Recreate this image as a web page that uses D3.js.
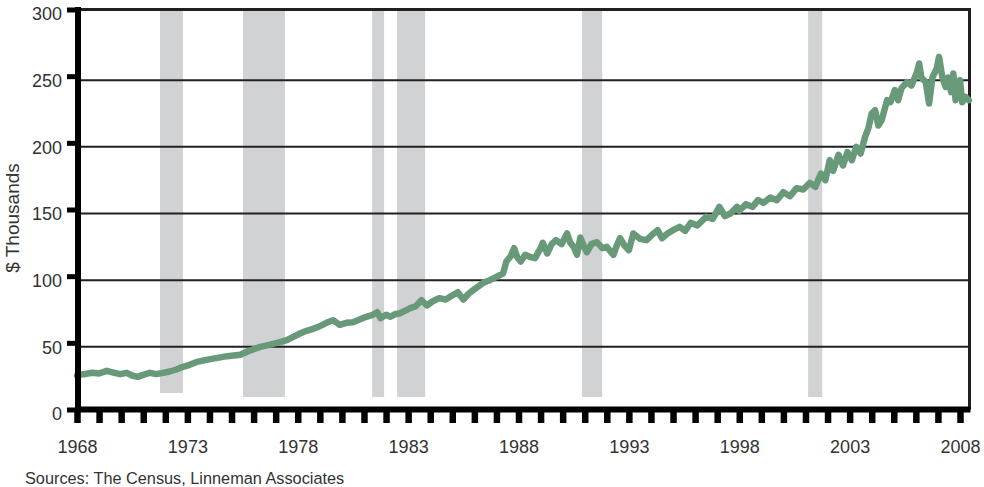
<!DOCTYPE html>
<html>
<head>
<meta charset="utf-8">
<script src="https://cdn.jsdelivr.net/npm/d3@7"></script>
<style>
  html, body { margin: 0; padding: 0; background: #fff; }
  svg { display: block; font-family: "Liberation Sans", Arial, sans-serif; }
</style>
</head>
<body>
<div id="chart"></div>
<script>
// Median home price, $ thousands (decimal year, value)
const dates = [
  1968.0, 1968.3, 1968.7, 1969.0, 1969.35, 1969.7, 1969.95, 1970.25, 1970.5, 1970.75,
  1971.0, 1971.3, 1971.6, 1971.9, 1972.2, 1972.5, 1972.8, 1973.1, 1973.4, 1973.8,
  1974.3, 1974.8, 1975.4, 1975.8, 1976.3, 1976.7, 1977.2, 1977.5, 1977.8, 1978.1,
  1978.4, 1978.7, 1979.0, 1979.3, 1979.6, 1979.9, 1980.2, 1980.5, 1980.8, 1981.1,
  1981.4, 1981.6, 1981.75, 1982.0, 1982.2, 1982.4, 1982.6, 1982.85, 1983.1, 1983.35,
  1983.6, 1983.85, 1984.1, 1984.4, 1984.7, 1984.9, 1985.25, 1985.5, 1985.75, 1985.95,
  1986.2, 1986.4, 1986.7, 1987.0, 1987.3, 1987.45, 1987.65, 1987.8, 1987.95, 1988.1,
  1988.3, 1988.5, 1988.75, 1989.0, 1989.1, 1989.3, 1989.5, 1989.7, 1989.95, 1990.2,
  1990.35, 1990.5, 1990.65, 1990.8, 1991.0, 1991.1, 1991.3, 1991.55, 1991.8, 1992.0,
  1992.3, 1992.45, 1992.6, 1992.8, 1993.0, 1993.2, 1993.5, 1993.8, 1994.05, 1994.3,
  1994.5, 1994.75, 1995.0, 1995.3, 1995.55, 1995.8, 1996.1, 1996.5, 1996.8, 1997.1,
  1997.35, 1997.6, 1997.9, 1998.0, 1998.3, 1998.6, 1998.85, 1999.1, 1999.4, 1999.7,
  2000.0, 2000.3, 2000.6, 2000.9, 2001.2, 2001.45, 2001.7, 2001.9, 2002.1, 2002.25,
  2002.5, 2002.7, 2002.9, 2003.1, 2003.3, 2003.5, 2003.7, 2003.85, 2004.0, 2004.15,
  2004.3, 2004.45, 2004.7, 2004.85, 2005.05, 2005.2, 2005.35, 2005.6, 2005.8, 2006.05,
  2006.15, 2006.25, 2006.45, 2006.6, 2006.75, 2006.95, 2007.05, 2007.2, 2007.35, 2007.45,
  2007.6, 2007.7, 2007.8, 2008.0, 2008.1, 2008.25, 2008.4,
];
const prices = [
  28.5, 29.5, 30.5, 30, 32, 30.5, 29.5, 30.5, 28.5, 27.5,
  29, 30.5, 29.5, 30.5, 31.5, 33, 35, 36.5, 38.5, 40,
  41.5, 43, 44, 47, 50, 51.5, 53.5, 55, 57.5, 60,
  62, 63.5, 65.5, 68, 70, 66.5, 68, 68.5, 70.5, 72.5,
  74, 76, 71.5, 74, 72.5, 74.5, 75, 77, 79, 80.5,
  85, 81, 84, 86.5, 85.5, 87.5, 91, 85.5, 90, 92.5,
  95.5, 98, 100, 102.5, 105, 114, 118, 124, 117, 114,
  119, 117.5, 116.5, 124, 128, 120, 127, 130, 127, 135,
  128, 125, 119, 132, 124, 121, 127, 128.5, 124, 125,
  119, 126, 131.5, 126, 122.5, 135, 131, 130, 134, 137.5,
  131.5, 135, 137.5, 140, 137, 143, 141, 147.5, 146, 155,
  148, 150, 155, 152, 157, 155, 160, 158, 162, 160,
  166, 163, 169, 168, 173, 170, 180, 175, 190, 182,
  194, 186, 196, 190, 200, 195, 207.5, 214, 225, 227.5,
  216, 220, 235, 233.5, 242.5, 235, 244, 248.5, 246, 256,
  262.5, 252, 248.5, 232.5, 252, 259, 267.5, 252, 245, 252,
  241, 255, 235, 250, 233.5, 237.5, 235,
];

// Shaded periods (decimal years)
const bandStarts = [1971.76, 1975.52, 1981.37, 1982.5, 1990.88, 2001.12];
const bandEnds = [1972.8, 1977.42, 1981.91, 1983.77, 1991.79, 2001.76];

const yTicks = [0, 50, 100, 150, 200, 250, 300];
const xTickYears = d3.range(1968, 2009);
const xLabelYears = [1968, 1973, 1978, 1983, 1988, 1993, 1998, 2003, 2008];

const width = 984;
const height = 487;
const plot = { left: 78, right: 969.5, top: 9.5, bottom: 409.5 };

const x = d3.scaleLinear().domain([1968, 2008]).range([77, 960]);
const y = d3.scaleLinear().domain([0, 300]).range([413.5, 13.5]);

const ink = "#231f20";
const labelColor = "#333333";

const svg = d3
  .select("#chart")
  .append("svg")
  .attr("width", width)
  .attr("height", height)
  .attr("viewBox", [0, 0, width, height]);

// Shaded bands
svg
  .append("g")
  .selectAll("rect")
  .data(bandStarts)
  .enter()
  .append("rect")
  .attr("x", (d) => x(d))
  .attr("y", plot.top + 1)
  .attr("width", (d, i) => x(bandEnds[i]) - x(d))
  .attr("height", (d, i) => (i === 0 ? 393 : 397) - plot.top - 1)
  .attr("fill", "#d1d2d4");

// Grid lines
svg
  .append("g")
  .selectAll("line")
  .data(yTicks.filter((d) => d > 0 && d < 300))
  .enter()
  .append("line")
  .attr("x1", plot.left)
  .attr("x2", plot.right)
  .attr("y1", (d) => y(d))
  .attr("y2", (d) => y(d))
  .attr("stroke", ink)
  .attr("stroke-width", 2);

// Frame top and right
svg
  .append("path")
  .attr("d", `M${plot.left},${plot.top}H${plot.right}V${plot.bottom}`)
  .attr("fill", "none")
  .attr("stroke", ink)
  .attr("stroke-width", 3);

// Price line
const line = d3
  .line()
  .x((d, i) => x(dates[i]))
  .y((d) => y(d));

svg
  .append("path")
  .datum(prices)
  .attr("fill", "none")
  .attr("stroke", "#689a79")
  .attr("stroke-width", 6.5)
  .attr("stroke-linejoin", "round")
  .attr("stroke-linecap", "round")
  .attr("d", line);

// Y axis
const yAxis = d3
  .axisLeft(y)
  .tickValues(yTicks)
  .tickSize(11)
  .tickPadding(5)
  .tickFormat(d3.format("d"));

const yAxisG = svg
  .append("g")
  .attr("transform", `translate(${plot.left},-4)`)
  .call(yAxis);

yAxisG.select(".domain").remove();
yAxisG.selectAll(".tick line").attr("stroke", "#000").attr("stroke-width", 5);
yAxisG
  .selectAll(".tick text")
  .attr("x", -16)
  .attr("dy", "0.8em")
  .attr("y", -4)
  .style("font-size", "18px")
  .style("fill", labelColor);

svg
  .append("line")
  .attr("x1", plot.left)
  .attr("x2", plot.left)
  .attr("y1", 7)
  .attr("y2", 412.5)
  .attr("stroke", "#000")
  .attr("stroke-width", 6);

// X axis
const xAxis = d3
  .axisBottom(x)
  .tickValues(xTickYears)
  .tickSize(11)
  .tickFormat((d) => (xLabelYears.includes(d) ? d : ""));

const xAxisG = svg
  .append("g")
  .attr("transform", "translate(0,412)")
  .call(xAxis);

xAxisG.select(".domain").remove();
xAxisG.selectAll(".tick line").attr("stroke", "#000").attr("stroke-width", 6.5);
xAxisG
  .selectAll(".tick text")
  .attr("y", 41)
  .attr("dy", 0)
  .style("font-size", "18px")
  .style("fill", labelColor);

svg
  .append("line")
  .attr("x1", 75)
  .attr("x2", plot.right + 1)
  .attr("y1", plot.bottom)
  .attr("y2", plot.bottom)
  .attr("stroke", "#000")
  .attr("stroke-width", 6);

// Axis title
svg
  .append("text")
  .attr("transform", "translate(19,218) rotate(-90)")
  .attr("text-anchor", "middle")
  .style("font-size", "19px")
  .style("fill", labelColor)
  .text("$ Thousands");

// Source
svg
  .append("text")
  .attr("x", 25)
  .attr("y", 484)
  .style("font-size", "16.3px")
  .style("fill", labelColor)
  .text("Sources: The Census, Linneman Associates");
</script>
</body>
</html>
